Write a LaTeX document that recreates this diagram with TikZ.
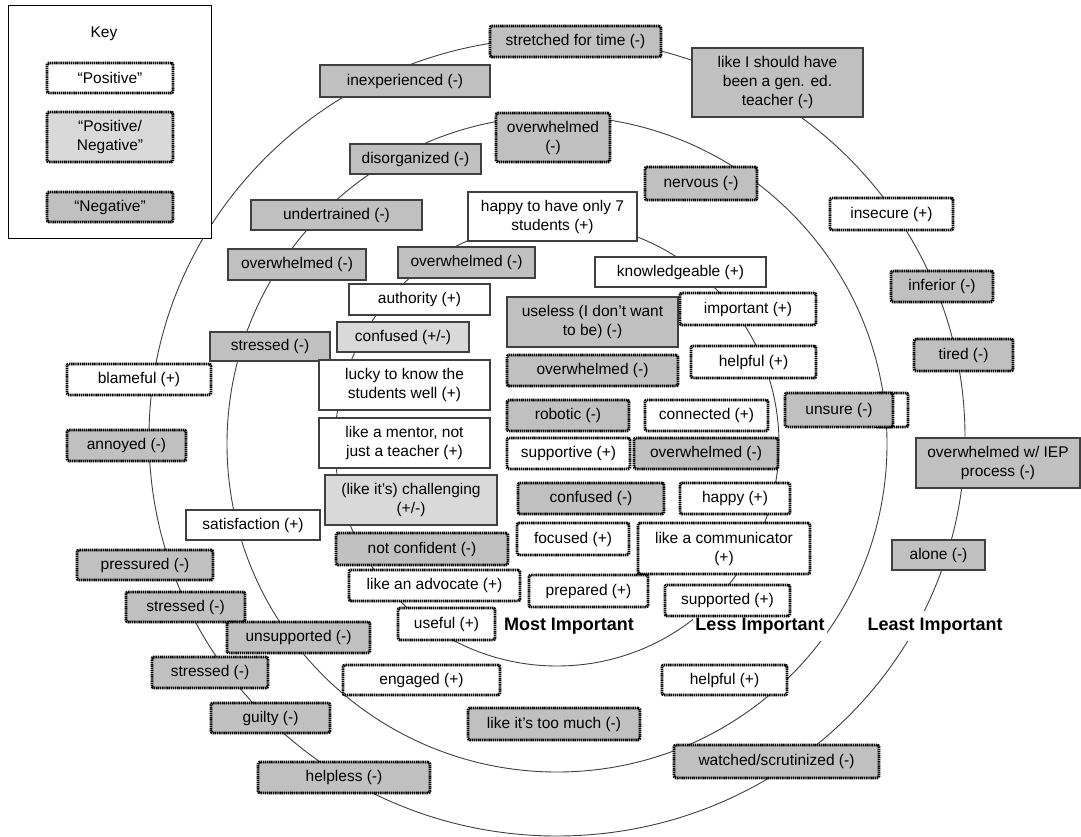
\documentclass[tikz,border=0pt]{standalone}
\usepackage{fontspec}
\setmainfont{Liberation Sans}
\newcommand\boxfont{\fontsize{15.5}{19}\selectfont}
\newcommand\labfont{\fontsize{18}{21}\selectfont\bfseries}
\definecolor{negfill}{HTML}{C0C0C0}
\definecolor{pnfill}{HTML}{D9D9D9}
\definecolor{ringcol}{HTML}{404040}
\tikzset{
  sz/.style 2 args={minimum width=#1pt, minimum height=#2pt},
  basebox/.style={rectangle, inner sep=1pt, align=center, font=\boxfont, text=black},
  dotb/.style={basebox, draw=black, line width=2.8pt, dash pattern=on 1.4pt off 0.7pt, rounded corners=2pt},
  solb/.style={basebox, draw=black!75, line width=1.1pt},
  posbox/.style={dotb, fill=white},
  negbox/.style={dotb, fill=negfill},
  pnbox/.style={dotb, fill=pnfill},
  possol/.style={solb, fill=white},
  negsol/.style={solb, fill=negfill},
  pnsol/.style={solb, fill=pnfill},
  lab/.style={font=\labfont, fill=white, inner xsep=2pt, inner ysep=7pt, text=black},
  ring/.style={draw=ringcol, line width=0.9pt}
}
\begin{document}
\begin{tikzpicture}[x=1pt,y=-1pt]
\useasboundingbox (0,0) rectangle (1081,837);
\fill[white] (0,0) rectangle (1081,837);
% rings
\coordinate (ctr) at (557,444);
\coordinate (octr) at (557,437);
\draw[ring] (ctr) ellipse[x radius=222pt, y radius=222pt];
\draw[ring] (ctr) ellipse[x radius=330pt, y radius=328pt];
\draw[ring] (octr) ellipse[x radius=408pt, y radius=399pt];
% key
\node[draw=black, line width=1pt, fill=white, sz={203}{232}] (keyframe) at (109.5,122) {};
\node[font=\boxfont] (keytitle) at (104,34) {Key};
\node[posbox, sz={126}{30}] (kpos) at (110,78) {“Positive”};
\node[pnbox, sz={126}{50}] (kpn) at (110,137) {“Positive/\\Negative”};
\node[negbox, sz={126}{30}] (kneg) at (110,207) {“Negative”};
% outer ring
\node[negbox, sz={171}{31}] (stretched) at (575.5,41.5) {stretched for time (-)};
\node[negsol, sz={170}{32}] (inexp) at (405,81) {inexperienced (-)};
\node[negsol, sz={171}{69}] (gened) at (777.5,82.5) {like I should have\\been a gen. ed.\\teacher (-)};
\node[posbox, sz={123}{32}] (insecure) at (891.5,214) {insecure (+)};
\node[negbox, sz={102}{31}] (inferior) at (942,286.5) {inferior (-)};
\node[negbox, sz={99}{32}] (tired) at (963.5,355) {tired (-)};
\node[negsol, sz={164}{50}] (iep) at (998,463) {overwhelmed w/ IEP\\process (-)};
\node[negsol, sz={93}{30}] (alone) at (938.5,555) {alone (-)};
\node[lab] (least) at (935,626) {Least Important};
\node[negbox, sz={205}{33}] (watched) at (776.5,761.5) {watched/scrutinized (-)};
\node[negbox, sz={172}{31}] (helpless) at (344,777.5) {helpless (-)};
\node[negbox, sz={119}{30}] (guilty) at (270.5,718) {guilty (-)};
\node[negbox, sz={116}{31}] (stressedA) at (210,672.5) {stressed (-)};
\node[negbox, sz={119}{30}] (stressedB) at (185.5,607) {stressed (-)};
\node[negbox, sz={136}{30}] (pressured) at (145,565) {pressured (-)};
\node[negbox, sz={119}{31}] (annoyed) at (126.5,445.5) {annoyed (-)};
\node[posbox, sz={144}{31}] (blameful) at (139,379.5) {blameful (+)};
% middle ring
\node[negsol, sz={120}{29}] (stressedC) at (270,346.5) {stressed (-)};
\node[negsol, sz={138}{31}] (overA) at (297,264.5) {overwhelmed (-)};
\node[negsol, sz={171}{30}] (undertrained) at (336.5,215) {undertrained (-)};
\node[negsol, sz={131}{30}] (disorg) at (415.5,159) {disorganized (-)};
\node[negbox, sz={114}{49}] (overB) at (553,137.5) {overwhelmed\\(-)};
\node[negbox, sz={112}{33}] (nervous) at (701,183.5) {nervous (-)};
\node[posbox, sz={33}{34}] (unsureR) at (891.5,410) {};
\node[negbox, sz={108}{34}] (unsure) at (839,410) {unsure (-)};
\node[posbox, sz={125}{30}] (helpfulB) at (724.5,680) {helpful (+)};
\node[negbox, sz={172}{32}] (toomuch) at (554,724) {like it’s too much (-)};
\node[posbox, sz={157}{30}] (engaged) at (421.5,680) {engaged (+)};
\node[negbox, sz={143}{31}] (unsupported) at (298.5,637.5) {unsupported (-)};
\node[possol, sz={134}{30}] (satisf) at (253,525) {satisfaction (+)};
\node[lab] (less) at (760,626) {Less Important};
% inner ring
\node[possol, sz={169}{49}] (happy7) at (552.5,216.5) {happy to have only 7\\students (+)};
\node[negsol, sz={137}{31}] (overC) at (466.5,262.5) {overwhelmed (-)};
\node[possol, sz={171}{30}] (knowl) at (680.5,272) {knowledgeable (+)};
\node[possol, sz={141}{31}] (authority) at (419.5,299.5) {authority (+)};
\node[negsol, sz={171}{50}] (useless) at (592.5,322) {useless (I don’t want\\to be) (-)};
\node[posbox, sz={136}{32}] (important) at (748,309) {important (+)};
\node[pnsol, sz={132}{30}] (confPN) at (403,337) {confused (+/-)};
\node[posbox, sz={125}{32}] (helpfulA) at (753.5,362) {helpful (+)};
\node[negbox, sz={171}{31}] (overD) at (592.5,370.5) {overwhelmed (-)};
\node[possol, sz={171}{50}] (lucky) at (404.5,385) {lucky to know the\\students well (+)};
\node[negbox, sz={122}{31}] (robotic) at (568,415.5) {robotic (-)};
\node[posbox, sz={123}{31}] (connected) at (706.5,415.5) {connected (+)};
\node[possol, sz={171}{50}] (mentor) at (404.5,443) {like a mentor, not\\just a teacher (+)};
\node[posbox, sz={123}{31}] (supportive) at (568.5,453.5) {supportive (+)};
\node[negbox, sz={144}{31}] (overE) at (706,453.5) {overwhelmed (-)};
\node[pnsol, sz={172}{50}] (challenging) at (411,500) {(like it’s) challenging\\(+/-)};
\node[negbox, sz={146}{31}] (confN) at (591,498.5) {confused (-)};
\node[posbox, sz={110}{31}] (happy) at (735,498.5) {happy (+)};
\node[negbox, sz={172}{32}] (notconf) at (422,549) {not confident (-)};
\node[posbox, sz={112}{32}] (focused) at (573,539) {focused (+)};
\node[posbox, sz={172}{51}] (communicator) at (724,548.5) {like a communicator\\(+)};
\node[posbox, sz={171}{31}] (advocate) at (434.5,585.5) {like an advocate (+)};
\node[posbox, sz={119}{32}] (prepared) at (588.5,591) {prepared (+)};
\node[posbox, sz={125}{31}] (supported) at (727.5,600.5) {supported (+)};
\node[posbox, sz={97}{32}] (useful) at (446.5,624) {useful (+)};
\node[font=\labfont, text=black] (most) at (569,626) {Most Important};
\end{tikzpicture}
\end{document}
